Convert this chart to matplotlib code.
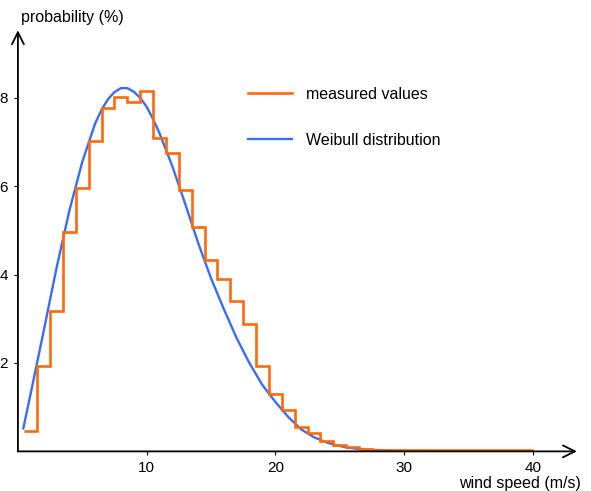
import matplotlib
matplotlib.use('Agg')
import matplotlib.pyplot as plt
import numpy as np

plt.rcParams['font.family'] = ['Liberation Sans', 'DejaVu Sans']

# measured wind speed histogram, one bin per m/s (centres 1..40)
bin_speed = np.arange(1, 41)
measured = [0.45, 1.93, 3.17, 4.96, 5.95, 7.02, 7.76, 8.03, 7.91, 8.16,
            7.09, 6.76, 5.91, 5.08, 4.33, 3.89, 3.41, 2.88, 1.94, 1.30,
            0.93, 0.545, 0.41, 0.235, 0.15, 0.09, 0.06, 0.04, 0.035, 0.03,
            0.03, 0.025, 0.02, 0.02, 0.02, 0.02, 0.02, 0.02, 0.02, 0.02]

# fitted Weibull curve
weibull_speed = [0.42, 1, 2, 3, 4, 5, 6, 6.5, 7, 7.5, 8, 8.5, 9, 9.5, 10, 10.5,
                 11, 12, 13, 14, 15, 16, 17, 18, 19, 20, 21, 22, 23, 24, 25,
                 26, 27, 28, 29, 30, 35, 40]
weibull = [0.52, 1.32, 2.72, 4.15, 5.45, 6.55, 7.42, 7.73, 7.97, 8.13, 8.22,
           8.22, 8.14, 8.00, 7.80, 7.52, 7.20, 6.45, 5.60, 4.72, 3.92, 3.22,
           2.56, 1.99, 1.50, 1.12, 0.78, 0.50, 0.32, 0.20, 0.12, 0.07, 0.04,
           0.03, 0.02, 0.01, 0.0, 0.0]

y_ticks = [2, 4, 6, 8]
x_ticks = [10, 20, 30, 40]

orange = '#ff6a0d'
blue = '#3b6cf5'


def plot_fig():
    fig = plt.figure(figsize=(5.91, 4.91), dpi=100)
    ax = fig.add_axes([0.0303, 0.0807, 0.943, 0.855])
    ax.set_xlim(0, 43.3)
    ax.set_ylim(0, 9.5)

    edges = np.append(bin_speed - 0.5, 40)
    ax.stairs(measured, edges, baseline=None, color=orange, lw=1.9,
              label='measured values', zorder=3)
    ax.plot(weibull_speed, weibull, color=blue, lw=1.7,
            label='Weibull distribution', zorder=2)

    for s in ax.spines.values():
        s.set_visible(False)
    arrow = dict(arrowstyle='->,head_length=0.86,head_width=0.43', lw=1.3,
                 color='black', shrinkA=0, shrinkB=0)
    ax.annotate('', xy=(1.003, 0), xytext=(0, 0), xycoords='axes fraction',
                arrowprops=arrow)
    ax.annotate('', xy=(0, 1.003), xytext=(0, 0), xycoords='axes fraction',
                arrowprops=arrow)

    ax.set_xticks(x_ticks)
    ax.set_yticks(y_ticks)
    ax.tick_params(length=3, width=0.8, labelsize=11, pad=4)

    ax.legend(loc='upper left', bbox_to_anchor=(248 / 591, 1 - 87 / 491),
              bbox_transform=fig.transFigure, frameon=False, fontsize=11.5,
              handlelength=2.75, handletextpad=0.9, labelspacing=1.92,
              borderpad=0, borderaxespad=0)

    fig.text(20.7 / 591, 1 - 21.7 / 491, 'probability (%)', fontsize=11.5,
             va='baseline', ha='left')
    fig.text(459 / 591, 1 - 488 / 491, 'wind speed (m/s)', fontsize=11.5,
             va='baseline', ha='left')

    fig.savefig('out.png', dpi=100)


def main():
    plot_fig()


if __name__ == '__main__':
    main()
